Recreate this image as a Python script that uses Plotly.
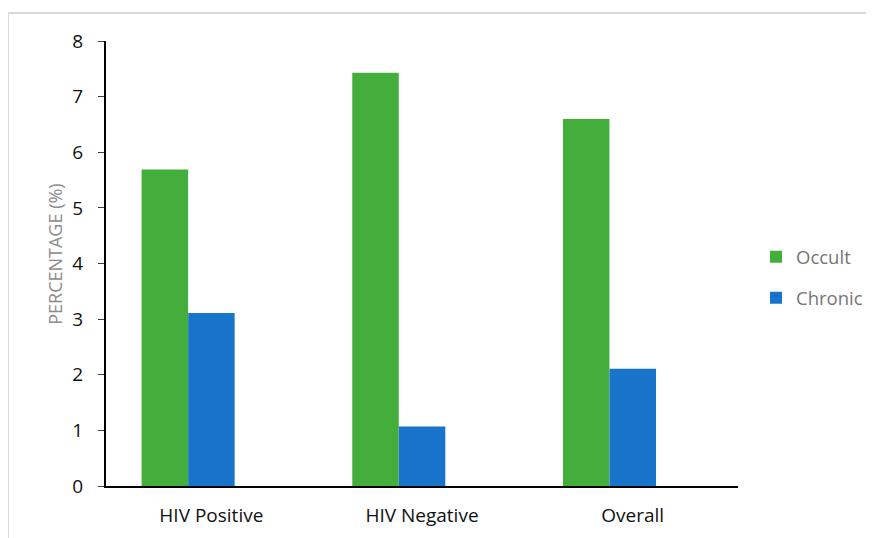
import plotly.graph_objects as go

categories = ["HIV Positive", "HIV Negative", "Overall"]
occult = [5.69, 7.43, 6.60]
chronic = [3.11, 1.07, 2.11]
y_ticks = [0, 1, 2, 3, 4, 5, 6, 7, 8]

FONT = "'Open Sans', Lato, sans-serif"
OFF = 8  # browser body margin
W, H = 874 - OFF, 538 - OFF
L, T = 106 - OFF, 41 - OFF
R = W - (738 - OFF)
B = H - (486.5 - OFF)
pw, ph = W - L - R, H - T - B

fig = go.Figure()
fig.add_trace(go.Bar(x=categories, y=occult, name="Occult", marker_color="#44AE3C",
                     marker_line_width=0, width=0.2207, offset=-0.331,
                     legendgroup="a"))
fig.add_trace(go.Bar(x=categories, y=chronic, name="Chronic", marker_color="#1873CB",
                     marker_line_width=0, width=0.2207, offset=-0.110,
                     legendgroup="b"))

def px_x(x):
    return (x - OFF - L) / pw

def px_y(y):
    return (H - B - (y - OFF)) / ph

fig.update_layout(
    width=W, height=H,
    margin=dict(l=L, r=R, t=T, b=B, autoexpand=False),
    paper_bgcolor="white", plot_bgcolor="white",
    font=dict(family=FONT, size=15, color="#000000"),
    barmode="overlay",
    showlegend=True,
    legend=dict(x=px_x(756), xanchor="left", y=px_y(278), yanchor="middle",
                font=dict(size=18.5, color="#767676", family=FONT),
                traceorder="grouped", tracegroupgap=14, itemwidth=30,
                bgcolor="rgba(0,0,0,0)"),
    xaxis=dict(type="category", range=[-0.5, 2.5], showline=True, linecolor="#000000",
               linewidth=2, ticks="", showgrid=False, zeroline=False,
               tickfont=dict(size=19, color="#111111"), ticklabelstandoff=11),
    yaxis=dict(range=[0, 8], tickvals=y_ticks, showline=True, linecolor="#000000",
               linewidth=2, ticks="outside", ticklen=6, tickcolor="#404040", tickwidth=1,
               showgrid=False, zeroline=False,
               tickfont=dict(size=19, color="#111111"), ticklabelstandoff=11),
    annotations=[dict(text="PERCENTAGE (%)", textangle=-90, xref="paper", yref="paper",
                      x=px_x(55), y=px_y(255), xanchor="center", yanchor="middle",
                      showarrow=False,
                      font=dict(size=18, color="#8c8c8c", family=FONT))],
    shapes=[
        dict(type="line", xref="paper", yref="paper", x0=px_x(8), x1=px_x(880),
             y0=px_y(13), y1=px_y(13), line=dict(color="#d9d9d9", width=2)),
        dict(type="line", xref="paper", yref="paper", x0=px_x(8), x1=px_x(8),
             y0=px_y(13), y1=px_y(545), line=dict(color="#d9d9d9", width=2)),
    ],
)

fig.write_html("out.html")
